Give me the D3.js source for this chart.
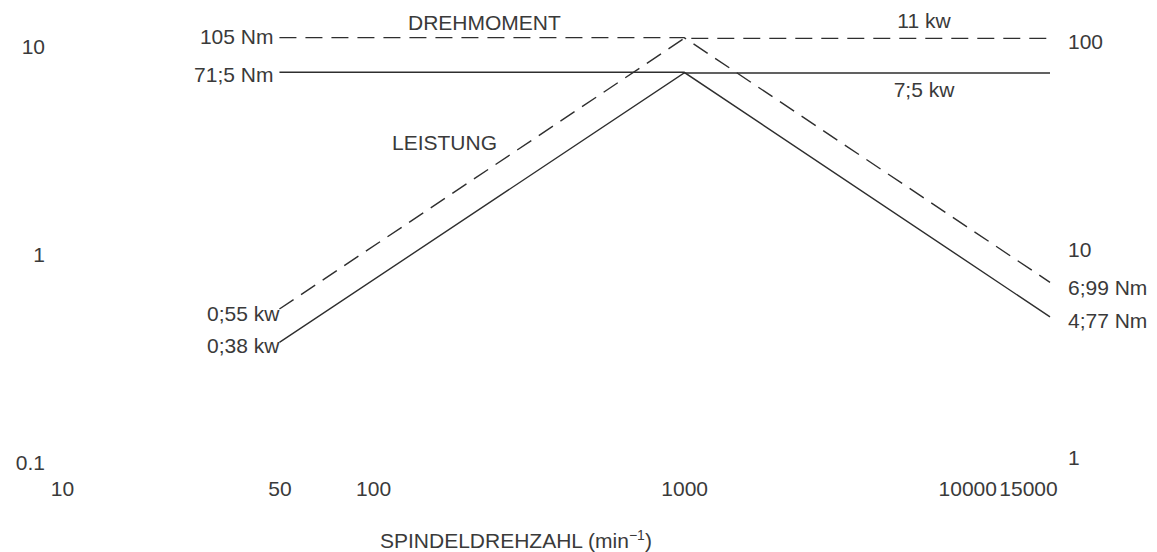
<!DOCTYPE html>
<html>
<head>
<meta charset="utf-8">
<script src="https://cdn.jsdelivr.net/npm/d3@7"></script>
<style>
    body { margin: 0; background: #fff; }
    text { font-family: "Liberation Sans", Arial, Helvetica, sans-serif; fill: #3a3a3a; }
</style>
</head>
<body>
<div id="chart"></div>
<script>
// speed axis (min-1) and tick labels
const speedTicks = [10, 50, 100, 1000, 10000, 15000];
const powerTicks = [0.1, 1, 10];      // kW, left
const torqueTicks = [1, 10, 100];     // Nm, right

// characteristic points: 50, 1000, 15000 min-1
const speeds = [50, 1000, 15000];
const power11 = [0.55, 11, 11];       // dashed
const power75 = [0.38, 7.5, 7.5];     // solid
const torque105 = [105, 105, 6.99];   // dashed
const torque715 = [71.5, 71.5, 4.77]; // solid

const width = 1157, height = 552;
const lineColor = "#2e2e2e";
const dash = "17,9";
const fontSize = "21px";

let svg = d3.select("#chart").append("svg")
    .attr("width", width)
    .attr("height", height);

let x = d3.scaleLog().domain([10, 15000]).range([62, 1050]);
let yPower = d3.scaleLog().domain([0.1, 10]).range([463, 47]);
let yTorque = d3.scaleLog().domain([1, 100]).range([458, 42]);

function drawSeries(values, yScale, dashed){
    let pts = speeds.map((s, i) => [s, values[i]]);
    let line = d3.line()
        .x(d => x(d[0]))
        .y(d => yScale(d[1]));
    svg.append("path")
        .datum(pts)
        .attr("d", line)
        .attr("fill", "none")
        .attr("stroke", lineColor)
        .attr("stroke-width", 1.4)
        .attr("stroke-dasharray", dashed ? dash : null);
}

drawSeries(torque105, yTorque, true);
drawSeries(power11, yPower, true);
drawSeries(torque715, yTorque, false);
drawSeries(power75, yPower, false);

//Axes without lines, only the numbers
function cleanAxis(g){
    g.select(".domain").remove();
    g.selectAll(".tick line").remove();
    g.selectAll("text")
        .attr("fill", null)
        .style("font-size", fontSize);
    g.attr("font-family", null).attr("font-size", null);
}

svg.append("g")
    .attr("transform", "translate(45,0)")
    .call(d3.axisLeft(yPower).tickValues(powerTicks).tickSize(0).tickPadding(0).tickFormat(d3.format("")))
    .call(cleanAxis);

svg.append("g")
    .attr("transform", "translate(1068,0)")
    .call(d3.axisRight(yTorque).tickValues(torqueTicks).tickSize(0).tickPadding(0).tickFormat(d3.format("")))
    .call(cleanAxis);

let xAxis = svg.append("g")
    .attr("transform", "translate(0,481)")
    .call(d3.axisBottom(x).tickValues(speedTicks).tickSize(0).tickPadding(0).tickFormat(d3.format("")))
    .call(cleanAxis);

// the two last labels sit closer together in the original
xAxis.selectAll(".tick text")
    .attr("dx", d => d == 10000 ? -28 : (d == 15000 ? -22 : 0));

// value labels along the curves
function label(txt, px, py, anchor){
    svg.append("text")
        .text(txt)
        .attr("x", px)
        .attr("y", py)
        .attr("text-anchor", anchor || "start")
        .style("font-size", fontSize);
}

label("105 Nm", x(speeds[0]) - 6, yTorque(torque105[0]) + 6, "end");
label("71;5 Nm", x(speeds[0]) - 6, yTorque(torque715[0]) + 10, "end");
label("0;55 kw", x(speeds[0]), yPower(power11[0]) + 12, "end");
label("0;38 kw", x(speeds[0]), yPower(power75[0]) + 11, "end");
label("11 kw", 924, yPower(power11[2]) - 10, "middle");
label("7;5 kw", 924, yPower(power75[2]) + 24, "middle");
label("6;99 Nm", x(speeds[2]) + 18, yTorque(torque105[2]) + 13, "start");
label("4;77 Nm", x(speeds[2]) + 18, yTorque(torque715[2]) + 11, "start");

label("DREHMOMENT", 408, 30, "start");
label("LEISTUNG", 392, 150, "start");

let title = svg.append("text")
    .attr("x", 380)
    .attr("y", 548)
    .style("font-size", fontSize);
title.append("tspan").text("SPINDELDREHZAHL (min");
title.append("tspan").text("\u22121").attr("dy", -8).style("font-size", "14px");
title.append("tspan").text(")").attr("dy", 8);
</script>
</body>
</html>
